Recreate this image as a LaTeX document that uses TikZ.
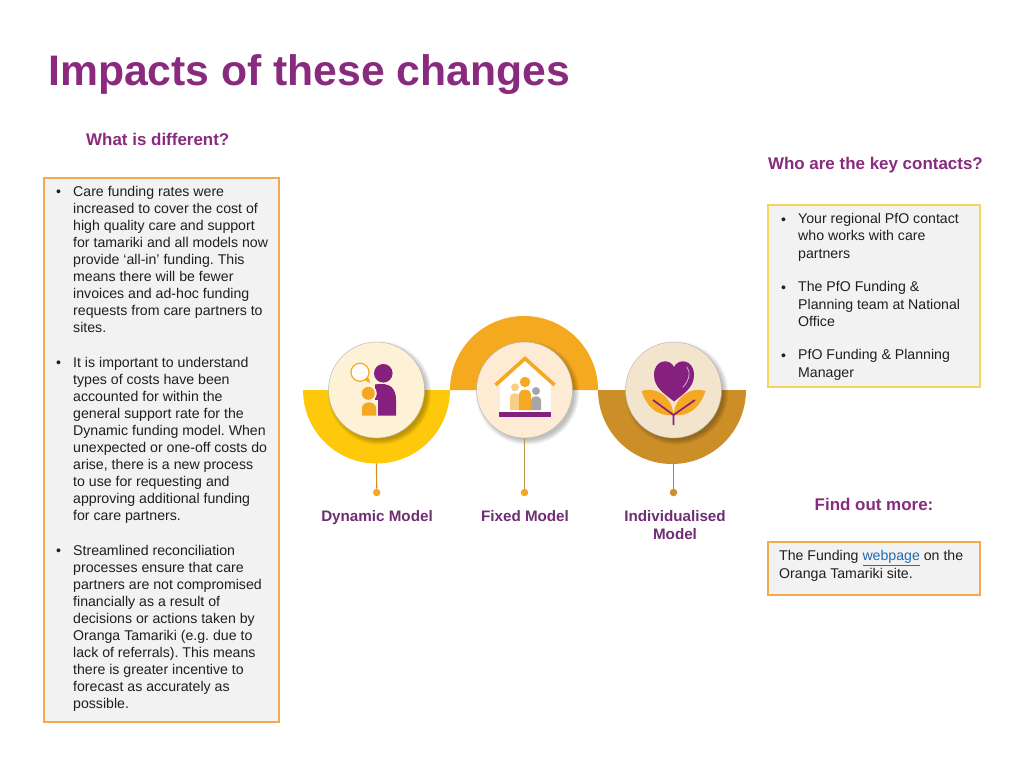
\documentclass[tikz,border=0pt]{standalone}
\usepackage{fontspec}
\setmainfont{Liberation Sans}
\frenchspacing
\definecolor{headpurple}{HTML}{8A2A7E}
\definecolor{iconpurple}{HTML}{86207F}
\definecolor{labelpurple}{HTML}{6F2D73}
\definecolor{boxgrey}{HTML}{F2F2F2}
\definecolor{boxorange}{HTML}{F4A94F}
\definecolor{boxyellow}{HTML}{F6D55C}
\definecolor{yellowband}{HTML}{FFC90B}
\definecolor{orangeband}{HTML}{F5A91E}
\definecolor{brownband}{HTML}{CC8F28}
\definecolor{iconorange}{HTML}{F5A824}
\definecolor{linktext}{HTML}{1F6CB0}
\definecolor{dynfill}{HTML}{FDF1D6}
\definecolor{fixfill}{HTML}{FDEBD3}
\definecolor{indfill}{HTML}{F3E4CD}
\tikzset{
    bodytext/.style={inner sep=0pt, align=left, anchor=north west, text=black!88,
        font=\fontsize{14.14}{17.05}\selectfont},
    bulletmark/.style={inner sep=0pt, anchor=north west, text=black!88, text height=10.3pt,
        font=\fontsize{14.14}{17.05}\selectfont},
    headtext/.style={inner sep=0pt, text=headpurple, font=\fontsize{16.95}{20}\selectfont\bfseries},
    infobox/.style={draw=boxorange, fill=boxgrey, line width=1.1pt},
    badge/.style={circle, minimum size=96pt, inner sep=0pt, draw=black!30, line width=.4pt},
    enddot/.style={circle, minimum size=7.5pt, inner sep=0pt},
    modellabel/.style={inner sep=0pt, align=center, text=labelpurple,
        font=\fontsize{15.2}{18.3}\selectfont\bfseries},
    stemline/.style={line width=1.2pt},
    badgeshadow/.pic={
        \foreach \sz in {0,1,...,6}{
            \fill[black, opacity=.04] (3,3) circle (47pt+\sz pt*.8);
        }
    },
}
\begin{document}
\begin{tikzpicture}[x=1pt, y=-1pt]
    \useasboundingbox (0,0) rectangle (1024,768);
    \node[inner sep=0pt, anchor=west, text=headpurple, font=\fontsize{42.7}{50}\selectfont\bfseries]
        (title) at (48,74.5) {Impacts of these changes};
    \node[headtext, anchor=west] (different) at (86,139.5) {What is different?};
    \node[headtext, anchor=east] (contacts) at (983,165) {Who are the key contacts?};
    \node[headtext] (findout) at (874,504.5) {Find out more:};

    % left box
    \draw[infobox] (44,178) rectangle (279,722);
    \node[bulletmark] (leftb1) at (56,186) {•};
    \node[bodytext] (left1) at (73,186) {Care funding rates were\\increased to cover the cost of\\high quality care and support\\for tamariki and all models now\\provide ‘all-in’ funding. This\\means there will be fewer\\invoices and ad-hoc funding\\requests from care partners to\\sites.};
    \node[bulletmark] (leftb2) at (56,357) {•};
    \node[bodytext] (left2) at (73,357) {It is important to understand\\types of costs have been\\accounted for within the\\general support rate for the\\Dynamic funding model. When\\unexpected or one-off costs do\\arise, there is a new process\\to use for requesting and\\approving additional funding\\for care partners.};
    \node[bulletmark] (leftb3) at (56,545) {•};
    \node[bodytext] (left3) at (73,545) {Streamlined reconciliation\\processes ensure that care\\partners are not compromised\\financially as a result of\\decisions or actions taken by\\Oranga Tamariki (e.g. due to\\lack of referrals). This means\\there is greater incentive to\\forecast as accurately as\\possible.};

    % right boxes
    \draw[infobox, draw=boxyellow] (768,205) rectangle (980,387);
    \node[bulletmark] (rightb1) at (781,213.5) {•};
    \node[bodytext] (right1) at (798,213.5) {Your regional PfO contact\\who works with care\\partners};
    \node[bulletmark] (rightb2) at (781,281.5) {•};
    \node[bodytext] (right2) at (798,281.5) {The PfO Funding \&\\Planning team at National\\Office};
    \node[bulletmark] (rightb3) at (781,349.5) {•};
    \node[bodytext] (right3) at (798,349.5) {PfO Funding \& Planning\\Manager};
    \draw[infobox] (768,542) rectangle (980,595);
    \node[bodytext] (funding) at (779,550.5) {The Funding \textcolor{linktext}{\underline{webpage}} on the\\Oranga Tamariki site.};

    % connectors under the bands
    \coordinate (dynbot) at (376.5,462);
    \coordinate (indbot) at (673.5,462);
    \node[enddot, fill=iconorange] (dyndot) at (376.7,492.5) {};
    \node[enddot, fill=iconorange] (fixdot) at (524.5,492.5) {};
    \node[enddot, fill=brownband] (inddot) at (673.5,492.5) {};
    \draw[stemline, draw=iconorange!85!black] (dynbot) -- (dyndot);
    \draw[stemline, draw=brownband!40!gray] (indbot) -- (inddot);

    % bands
    \fill[yellowband] (303,390) arc (180:360:73.5pt) -- cycle;
    \fill[orangeband] (450,390) arc (180:0:74pt) -- cycle;
    \fill[brownband] (598,390) arc (180:360:74pt) -- cycle;
    \foreach \cx in {376.5,524.5,673.5}{
        \pic at (\cx,390) {badgeshadow};
    }

    % badges
    \node[badge, fill=dynfill] (dyncircle) at (376.5,390) {};
    \node[badge, fill=fixfill] (fixcircle) at (524.5,390) {};
    \node[badge, fill=indfill] (indcircle) at (673.5,390) {};
    \draw[stemline, draw=iconorange!70!black!80] (fixcircle) -- (fixdot);

    % dynamic icon
    \fill[iconpurple] (383.3,373.3) circle (9.3pt);
    \fill[iconpurple] (375,415.7) -- (375,384.5) .. controls (390,382) and (396,388) .. (396,400) -- (396,415.7) -- cycle;
    \fill[dynfill] (368.3,393.3) circle (8.5pt);
    \fill[dynfill] (360,400) rectangle (377.5,416);
    \fill[iconorange] (368.3,393.3) circle (6.5pt);
    \fill[iconorange] (362,415.7) -- (362,408) .. controls (362,400.5) and (376,400.5) .. (376,408) -- (376,415.7) -- cycle;
    \draw[iconorange, fill=white, line width=1.2pt] (360,372.3) circle (9pt);
    \fill[iconorange] (364,380) -- (370.5,383) -- (368,377) -- cycle;

    % fixed icon
    \fill[white] (500,412) -- (500,384) -- (525,359) -- (550.5,384) -- (550.5,412) -- cycle;
    \draw[iconorange, line width=3.6pt] (495.5,385) -- (525,358.5) -- (554.5,385);
    \fill[iconpurple] (499,412) rectangle (551,417);
    \fill[iconorange!55] (515,387.3) circle (4pt);
    \fill[iconorange!55] (510,410) -- (510,397) .. controls (510,392) and (520,392) .. (520,397) -- (520,410) -- cycle;
    \fill[gray!70] (536,391) circle (4pt);
    \fill[gray!70] (531,410) -- (531,400) .. controls (531,395) and (541,395) .. (541,400) -- (541,410) -- cycle;
    \fill[iconorange] (525,382) circle (5.2pt);
    \fill[iconorange] (519,410) -- (519,394) .. controls (519,388) and (531,388) .. (531,394) -- (531,410) -- cycle;

    % individualised icon
    \fill[iconorange] (641.5,391) .. controls (655,386) and (672,396) .. (673.5,415)
        .. controls (656,417) and (646,405) .. (641.5,391) -- cycle;
    \fill[iconorange] (705.5,391) .. controls (692,386) and (675,396) .. (673.5,415)
        .. controls (691,417) and (701,405) .. (705.5,391) -- cycle;
    \draw[iconpurple, line width=1.7pt] (673.5,425) -- (673.5,415) -- (653,400);
    \draw[iconpurple, line width=1.7pt] (673.5,415) -- (695,400);
    \fill[iconpurple] (674,401.5) .. controls (665,394) and (654,388) .. (654,375)
        .. controls (654,359) and (670,358) .. (674,367)
        .. controls (678,358) and (694,359) .. (694,375)
        .. controls (694,388) and (683,394) .. (674,401.5) -- cycle;
    \draw[iconpurple!35!white, line width=.8pt, line cap=round] (687,367) .. controls (691,372) and (689,381) .. (683,387);

    % model labels
    \node[modellabel, anchor=base] (dynlabel) at (377,521.5) {Dynamic Model};
    \node[modellabel, anchor=base] (fixlabel) at (525,521.5) {Fixed Model};
    \node[modellabel, anchor=north] (indlabel) at (675,510) {Individualised\\Model};
\end{tikzpicture}
\end{document}
